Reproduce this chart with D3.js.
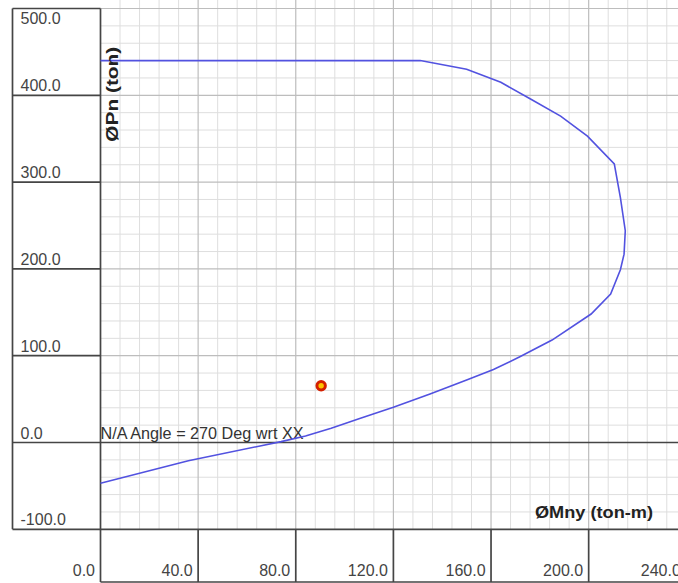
<!DOCTYPE html>
<html><head><meta charset="utf-8">
<script src="https://cdn.jsdelivr.net/npm/d3@7"></script>
<style>html,body{margin:0;padding:0;background:#fff;}svg{display:block;}</style>
</head><body>
<script>
// ---- data ----
const xTicks = [0, 40, 80, 120, 160, 200, 240];
const yTicks = [500, 400, 300, 200, 100, 0, -100];
const xTickLabels = ["0.0", "40.0", "80.0", "120.0", "160.0", "200.0", "240.0"];
const yTickLabels = ["500.0", "400.0", "300.0", "200.0", "100.0", "0.0", "-100.0"];
const curveM = [0, 131, 150, 164, 176, 188.5, 199.5, 210.5, 213, 215, 214.5, 213, 209, 201, 185, 172, 161, 150, 135, 120, 106.5, 94.5, 84, 74, 36, 0];
const curveP = [440, 440, 430, 415, 396, 376, 353, 321, 282, 244, 217, 199, 171, 148, 118, 99, 84, 72, 56, 40.5, 28, 16.5, 7.5, 1, -21, -47];
const pointM = [90.4];
const pointP = [65.3];
const xLabel = "ØMny (ton-m)";
const yLabel = "ØPn (ton)";
const note = "N/A Angle = 270 Deg wrt XX";

const W = 678, H = 583;
const x = d3.scaleLinear().domain([0, 240]).range([100.5, 686.3]);
const y = d3.scaleLinear().domain([-100, 500]).range([529.3, 8.5]);
const leftX = 12.5, bottomY = 582;

const svg = d3.select("body").append("svg").attr("width", W).attr("height", H);

// minor grid
const minorX = d3.range(0, 241, 8).filter(v => v % 40 !== 0);
const minorY = d3.range(-100, 501, 20).filter(v => v % 100 !== 0);
svg.append("g").selectAll("line").data(minorX).join("line")
  .attr("x1", d => x(d)).attr("x2", d => x(d)).attr("y1", 0).attr("y2", y(-100))
  .attr("stroke", "#dedede").attr("stroke-width", 1);
svg.append("g").selectAll("line").data(minorY).join("line")
  .attr("x1", x(0)).attr("x2", W).attr("y1", d => y(d)).attr("y2", d => y(d))
  .attr("stroke", "#dedede").attr("stroke-width", 1);
// major grid in plot area
svg.append("g").selectAll("line").data(xTicks.filter(v => v > 0)).join("line")
  .attr("x1", d => x(d)).attr("x2", d => x(d)).attr("y1", 0).attr("y2", y(-100))
  .attr("stroke", "#bdbdbd").attr("stroke-width", 1.2);
svg.append("g").selectAll("line").data(yTicks.filter(v => v > 0)).join("line")
  .attr("x1", x(0)).attr("x2", W).attr("y1", d => y(d)).attr("y2", d => y(d))
  .attr("stroke", "#bdbdbd").attr("stroke-width", 1.2);

const dark = "#454545", dw = 1.7;
const g = svg.append("g").attr("stroke", dark).attr("stroke-width", dw);
// left panel
g.append("line").attr("x1", leftX).attr("x2", leftX).attr("y1", y(500)).attr("y2", y(-100));
g.append("line").attr("x1", leftX).attr("x2", x(0)).attr("y1", y(500)).attr("y2", y(500));
g.selectAll(".yl").data(yTicks.filter(v => v < 500 && v > 0)).join("line")
  .attr("x1", leftX).attr("x2", x(0)).attr("y1", d => y(d)).attr("y2", d => y(d));
// full-width dark lines at 0 and -100
g.selectAll(".yf").data([0, -100]).join("line")
  .attr("x1", leftX).attr("x2", W).attr("y1", d => y(d)).attr("y2", d => y(d));
// vertical line at x=0
g.append("line").attr("x1", x(0)).attr("x2", x(0)).attr("y1", y(500)).attr("y2", bottomY);
// bottom panel
g.selectAll(".xl").data(xTicks.filter(v => v > 0)).join("line")
  .attr("x1", d => x(d)).attr("x2", d => x(d)).attr("y1", y(-100)).attr("y2", bottomY);
g.append("line").attr("x1", x(0)).attr("x2", W).attr("y1", bottomY).attr("y2", bottomY);

// tick labels
const font = "'Liberation Sans', Arial, sans-serif";
svg.append("g").selectAll("text").data(yTicks).join("text")
  .attr("x", 20.5).attr("y", d => Math.max(y(d) - 4, 24))
  .attr("font-family", font).attr("font-size", 16).attr("fill", "#444")
  .text((d, i) => yTickLabels[i]);
svg.append("g").selectAll("text").data(xTicks).join("text")
  .attr("x", d => x(d) - 5.5).attr("y", 576).attr("text-anchor", "end")
  .attr("font-family", font).attr("font-size", 16).attr("fill", "#444")
  .text((d, i) => xTickLabels[i]);

// note
svg.append("text").attr("x", x(0)).attr("y", 438.5)
  .attr("font-family", font).attr("font-size", 16).attr("fill", "#333")
  .attr("textLength", 203).attr("lengthAdjust", "spacingAndGlyphs")
  .text(note);

// curve
const pts = curveM.map((m, i) => [m, curveP[i]]);
svg.append("path").datum(pts)
  .attr("d", d3.line().x(d => x(d[0])).y(d => y(d[1])))
  .attr("fill", "none").attr("stroke", "#5252e0").attr("stroke-width", 1.6);

// point
svg.append("g").selectAll("circle").data(pointM).join("circle")
  .attr("cx", d => x(d)).attr("cy", (d, i) => y(pointP[i])).attr("r", 4.2)
  .attr("fill", "#ffc400").attr("stroke", "#d42000").attr("stroke-width", 3);

// axis titles
svg.append("text").attr("x", 535).attr("y", 517.5)
  .attr("font-family", font).attr("font-size", 16.5).attr("font-weight", "bold").attr("fill", "#222")
  .attr("textLength", 118).attr("lengthAdjust", "spacingAndGlyphs")
  .text(xLabel);
svg.append("text").attr("transform", "translate(118.3,141.7) rotate(-90)")
  .attr("font-family", font).attr("font-size", 17).attr("font-weight", "bold").attr("fill", "#222")
  .attr("textLength", 95).attr("lengthAdjust", "spacingAndGlyphs")
  .text(yLabel);
</script>
</body></html>
